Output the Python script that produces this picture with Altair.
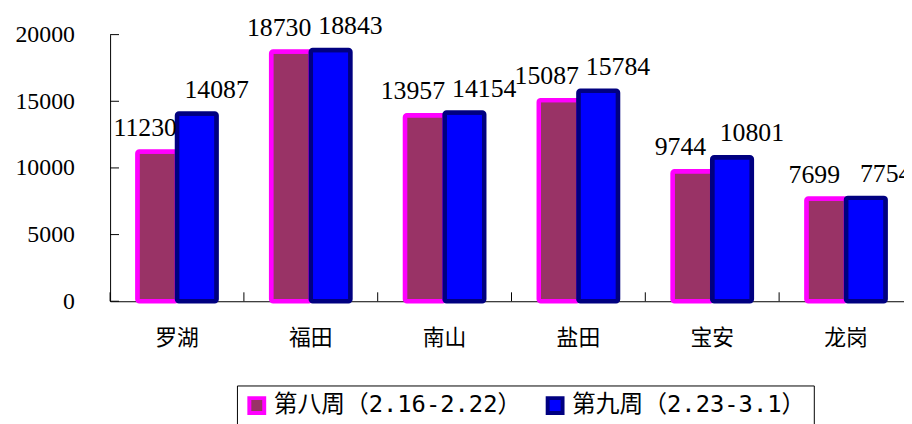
import altair as alt
import pandas as pd

categories = ["罗湖", "福田", "南山", "盐田", "宝安", "龙岗"]
series_names = ["第八周（2.16-2.22）", "第九周（2.23-3.1）"]
week8 = [11230, 18730, 13957, 15087, 9744, 7699]
week9 = [14087, 18843, 14154, 15784, 10801, 7754]
y_ticks = [0, 5000, 10000, 15000, 20000]

fills = ["#993366", "#0000FF"]
strokes = ["#FF00FF", "#000080"]

rows = []
for s, vals in zip(series_names, [week8, week9]):
    for c, v in zip(categories, vals):
        rows.append({"cat": c, "series": s, "value": v})
df = pd.DataFrame(rows)
cat_df = pd.DataFrame({"cat": categories})
tick_df = pd.DataFrame({"tick": y_ticks})

W, H = 801, 269
STEP = 135
PI = 1 - 80 / STEP

xscale = alt.Scale(domain=categories, range=[0, 6 * STEP], paddingInner=PI, paddingOuter=PI / 2)
yscale = alt.Scale(domain=[0, 20000], nice=False)

xaxis = alt.Axis(labelAngle=0, ticks=False, labelPadding=27, labelFont="Noto Sans CJK SC",
                 labelFontSize=22, labelColor="black", domainColor="black", domainWidth=1,
                 title=None, grid=False)
yaxis = alt.Axis(values=y_ticks, ticks=False, labelPadding=36, labelFont="Liberation Serif",
                 labelFontSize=24, labelColor="black", domainColor="black", domainWidth=1,
                 title=None, grid=False, labelBaseline="middle", format="d")

legend = alt.Legend(title=None, orient="none", legendX=128, legendY=354, direction="horizontal",
                    symbolType="square", symbolSize=225, symbolStrokeWidth=4,
                    labelFont="DejaVu Sans Mono, Noto Sans CJK SC", labelFontSize=24,
                    labelColor="black", labelOffset=5, columnPadding=17, padding=8,
                    strokeColor="black", fillColor="white", labelLimit=400)

X = alt.X("cat:N", scale=xscale, axis=xaxis)
XO = alt.XOffset("series:N", scale=alt.Scale(domain=series_names))
Y = alt.Y("value:Q", scale=yscale, axis=yaxis)

bars = alt.Chart(df).mark_bar(strokeWidth=4.5, cornerRadius=2).encode(
    x=X, xOffset=XO, y=Y,
    fill=alt.Fill("series:N", scale=alt.Scale(domain=series_names, range=fills), legend=legend),
    stroke=alt.Stroke("series:N", scale=alt.Scale(domain=series_names, range=strokes), legend=legend),
)

def labels(idx, dx):
    return alt.Chart(df).transform_filter(
        alt.datum.series == series_names[idx]
    ).mark_text(font="Liberation Serif", fontSize=26, dy=-16, dx=dx,
                baseline="alphabetic", color="black").encode(
        x=X, xOffset=XO, y=Y, text=alt.Text("value:Q", format="d"))

lab8 = labels(0, -12)
lab9 = labels(1, 20)

yt = alt.Chart(tick_df).mark_rule(color="black", strokeWidth=1).encode(
    y=alt.Y("tick:Q", scale=yscale, axis=yaxis), x=alt.value(0), x2=alt.value(9))

xt = alt.Chart(cat_df).mark_rule(color="black", strokeWidth=1, xOffset=-PI * STEP / 2).encode(
    x=alt.X("cat:N", scale=xscale, axis=xaxis, bandPosition=0),
    y=alt.value(H - 9), y2=alt.value(H))

chart = alt.layer(bars, lab8, lab9, yt, xt).properties(
    width=W, height=H,
    autosize=alt.AutoSizeParams(type="none"),
    padding={"left": 103, "top": 25, "right": 0, "bottom": 122},
).configure_view(strokeWidth=0)

chart.save("out.html", embed_options={"renderer": "svg", "actions": False})
